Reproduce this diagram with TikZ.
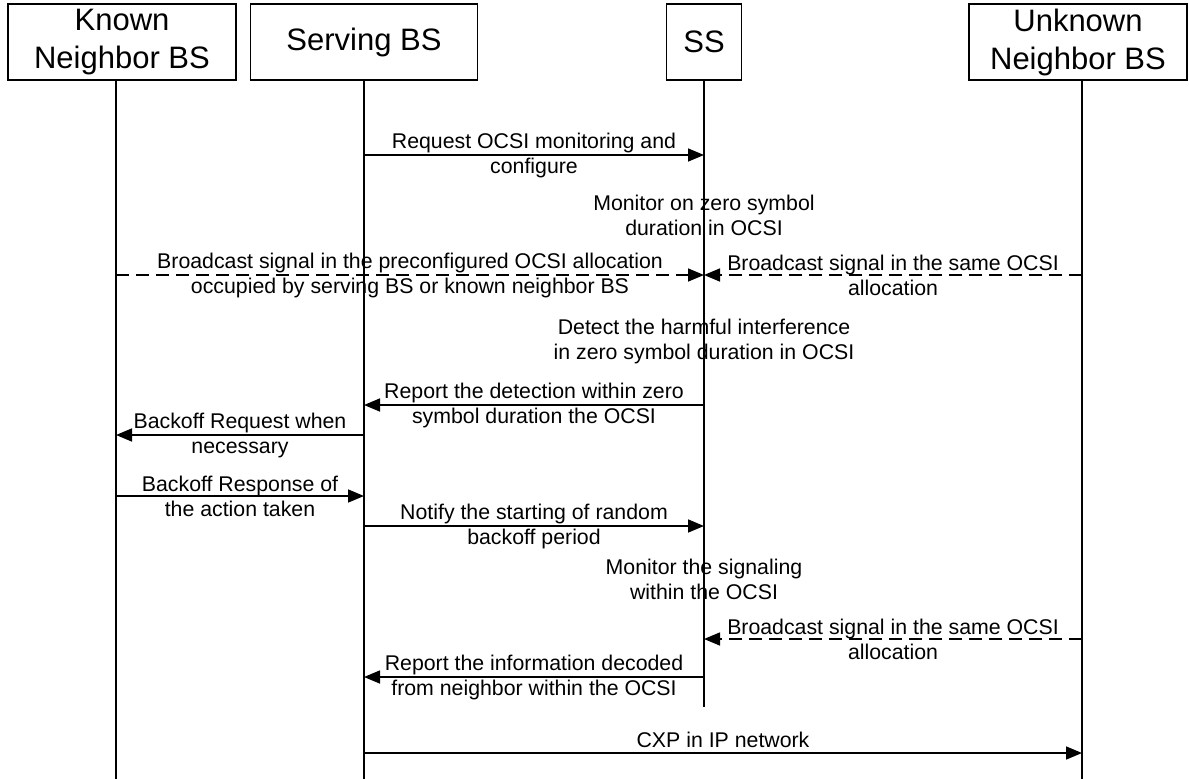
\documentclass[tikz,border=0pt]{standalone}
\usepackage{fontspec}
\setmainfont{Liberation Sans}
\usetikzlibrary{arrows.meta}

\begin{document}
\begin{tikzpicture}[x=1pt, y=-1pt,
    actor/.style={draw, line width=1.2pt, minimum height=76pt, align=center, inner sep=0pt, font=\fontsize{31}{38}\selectfont},
    life/.style={draw, line width=1.2pt},
    msg/.style={draw, line width=1.6pt, -{Triangle[length=16pt, width=13pt]}},
    dmsg/.style={msg, dash pattern=on 13pt off 7pt},
    lbl/.style={align=center, inner sep=0pt, font=\fontsize{21.3}{25}\selectfont}]
    \useasboundingbox (0,0) rectangle (1189,779);

    \node[actor, minimum width=228pt] (known) at (122,42) {Known\\Neighbor BS};
    \node[actor, minimum width=227pt] (serving) at (364,42) {Serving BS};
    \node[actor, minimum width=75pt] (ss) at (704,42) {SS};
    \node[actor, minimum width=218pt] (unknown) at (1078,42) {Unknown\\Neighbor BS};

    \coordinate (kend) at (116,779);
    \coordinate (svend) at (364,779);
    \coordinate (ssend) at (704,707);
    \coordinate (ukend) at (1082,779);
    \draw[life] (known.south -| kend) -- (kend);
    \draw[life] (serving.south -| svend) -- (svend);
    \draw[life] (ss.south -| ssend) -- (ssend);
    \draw[life] (unknown.south -| ukend) -- (ukend);

    \coordinate (r1) at (0,155);
    \coordinate (r3) at (0,275);
    \coordinate (r6) at (0,405);
    \coordinate (r7) at (0,435);
    \coordinate (r8) at (0,496);
    \coordinate (r9) at (0,526);
    \coordinate (r11) at (0,639);
    \coordinate (r12) at (0,677);
    \coordinate (r13) at (0,753);

    \node[lbl] (monone) at (704,215) {Monitor on zero symbol\\duration in OCSI};
    \node[lbl] (detect) at (704,341) {Detect the harmful interference\\in zero symbol duration in OCSI};
    \node[lbl] (montwo) at (704,579) {Monitor the signaling\\within the OCSI};

    \draw[msg] (svend |- r1) -- node[lbl] {Request OCSI monitoring and\\configure} (ssend |- r1);
    \draw[dmsg] (kend |- r3) -- node[lbl] {Broadcast signal in the preconfigured OCSI allocation\\occupied by serving BS or known neighbor BS} (ssend |- r3);
    \draw[dmsg] (ukend |- r3) -- node[lbl] {Broadcast signal in the same OCSI\\allocation} (ssend |- r3);
    \draw[msg] (ssend |- r6) -- node[lbl] {Report the detection within zero\\symbol duration the OCSI} (svend |- r6);
    \draw[msg] (svend |- r7) -- node[lbl] {Backoff Request when\\necessary} (kend |- r7);
    \draw[msg] (kend |- r8) -- node[lbl] {Backoff Response of\\the action taken} (svend |- r8);
    \draw[msg] (svend |- r9) -- node[lbl] {Notify the starting of random\\backoff period} (ssend |- r9);
    \draw[dmsg] (ukend |- r11) -- node[lbl] {Broadcast signal in the same OCSI\\allocation} (ssend |- r11);
    \draw[msg] (ssend |- r12) -- node[lbl] {Report the information decoded\\from neighbor within the OCSI} (svend |- r12);
    \draw[msg] (svend |- r13) -- node[lbl, above=5pt] {CXP in IP network} (ukend |- r13);
\end{tikzpicture}
\end{document}
